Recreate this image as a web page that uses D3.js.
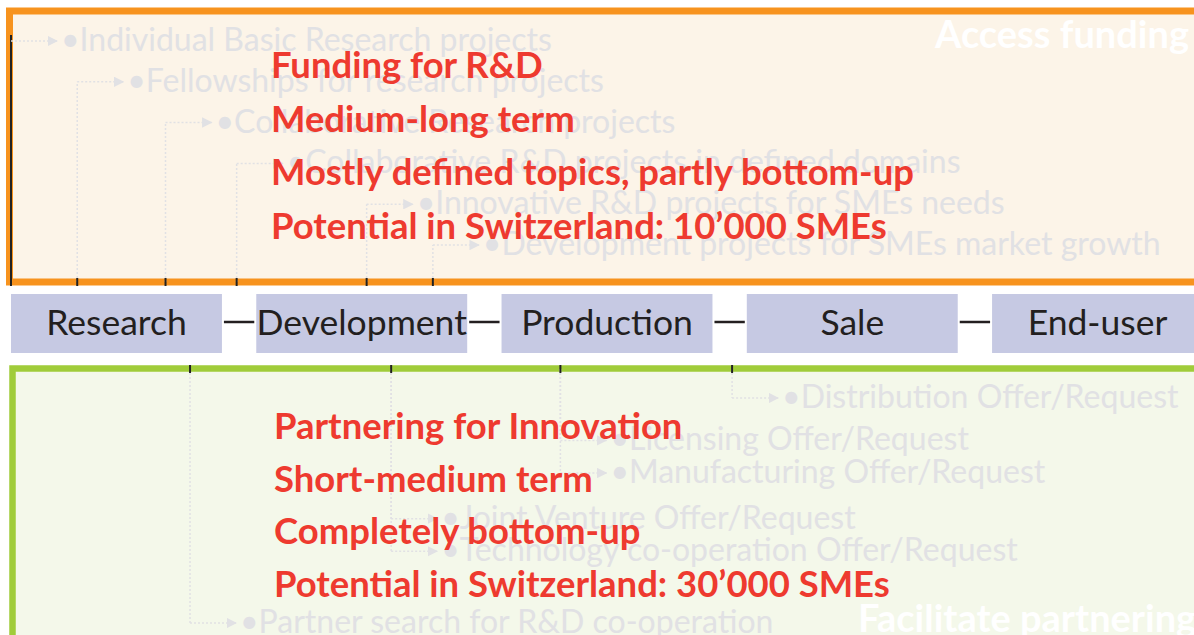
<!DOCTYPE html>
<html>
<head>
<meta charset="utf-8">
<script src="https://cdn.jsdelivr.net/npm/d3@7"></script>
<style>
  body { margin: 0; background: #fff; }
  svg { display: block; }
</style>
</head>
<body>
<div id="chart"></div>
<script>
// value chain
const stages = ["Research", "Development", "Production", "Sale", "End-user"];

// headline texts
const fundingHeadlines = [
    "Funding for R&D",
    "Medium-long term",
    "Mostly defined topics, partly bottom-up",
    "Potential in Switzerland: 10\u2019000 SMEs"
];
const partneringHeadlines = [
    "Partnering for Innovation",
    "Short-medium term",
    "Completely bottom-up",
    "Potential in Switzerland: 30\u2019000 SMEs"
];

// instruments, where they branch off the chain (stage units) and their text line
const fundingInstruments = [
    "Individual Basic Research projects",
    "Fellowships for research projects",
    "Collaborative Research projects",
    "Collaborative R&D projects in defined domains",
    "Innovative R&D projects for SMEs needs",
    "Development projects for SMEs market growth"
];
const fundingChainPos = [0, 0.27, 0.63, 0.92, 1.45, 1.72];
const fundingRow = [0, 1, 2, 3, 4, 5];

const partneringInstruments = [
    "Distribution Offer/Request",
    "Licensing Offer/Request",
    "Manufacturing Offer/Request",
    "Joint Venture Offer/Request",
    "Technology co-operation Offer/Request",
    "Partner search for R&D co-operation"
];
const partneringChainPos = [2.94, 2.24, 2.24, 1.55, 1.55, 0.73];
const partneringRow = [0, 1.3, 2.3, 3.7, 4.7, 6.9];

const panelTitles = ["Access funding", "Facilitate partnering"];

const width = 1194, height = 635;
const font = "Lato, 'Open Sans', sans-serif";
const red = "#ee3a2f", faint = "#e1e1e4";

const svg = d3.select("#chart").append("svg")
    .attr("width", width)
    .attr("height", height);

// Scales
const x = d3.scaleBand().domain(stages).range([11, 1203]).paddingInner(0.14).paddingOuter(0);
const chainX = d3.scaleLinear().domain([0, 5]).range([11, 11 + 5 * x.step()]);
const topRowY = d3.scaleLinear().domain([0, 5]).range([51, 255]);
const bottomRowY = d3.scaleLinear().domain([0, 6.9]).range([408, 633]);

// Panels
svg.append("rect")
    .attr("x", 9.5).attr("y", 11)
    .attr("width", 1210).attr("height", 271)
    .attr("fill", "#fcf4e8")
    .attr("stroke", "#f7931e")
    .attr("stroke-width", 7);

svg.append("rect")
    .attr("x", 12.5).attr("y", 368.5)
    .attr("width", 1210).attr("height", 300)
    .attr("fill", "#f4f8ea")
    .attr("stroke", "#a0cc3a")
    .attr("stroke-width", 6.5);

// arrow marker
svg.append("defs").append("marker")
    .attr("id", "arr")
    .attr("viewBox", "0 0 10 10")
    .attr("refX", 9).attr("refY", 5)
    .attr("markerWidth", 7).attr("markerHeight", 7)
    .attr("orient", "auto")
    .append("path")
    .attr("d", "M0,0L10,5L0,10z")
    .attr("fill", faint);

// faint instrument trees
function drawTree(items, chainPos, rows, rowY, borderY) {
    const g = svg.append("g");
    items.forEach((t, i) => {
        const bx = chainX(chainPos[i]);
        const by = rowY(rows[i]) - 10;
        const solid = borderY < 300 && i === 0;
        g.append("line")
            .attr("x1", bx).attr("x2", bx)
            .attr("y1", borderY).attr("y2", solid ? by - 6 : by)
            .attr("stroke", solid ? "#222" : faint)
            .attr("stroke-width", solid ? 2 : 1.5)
            .attr("stroke-dasharray", solid ? null : "2,2");
        g.append("line")
            .attr("x1", bx).attr("x2", bx + 46)
            .attr("y1", by).attr("y2", by)
            .attr("stroke", faint)
            .attr("stroke-width", 1.5)
            .attr("stroke-dasharray", "2,2")
            .attr("marker-end", "url(#arr)");
        g.append("text")
            .attr("x", bx + 50)
            .attr("y", rowY(rows[i]))
            .attr("fill", faint)
            .style("font-family", font)
            .style("font-size", "32px")
            .text("\u2022" + t);
    });
    // ticks on the border
    Array.from(new Set(chainPos)).forEach(p => {
        svg.append("line")
            .attr("x1", chainX(p)).attr("x2", chainX(p))
            .attr("y1", borderY - 4).attr("y2", borderY + 4)
            .attr("stroke", "#222")
            .attr("stroke-width", 2);
    });
}
drawTree(fundingInstruments, fundingChainPos, fundingRow, topRowY, 282);
drawTree(partneringInstruments, partneringChainPos, partneringRow, bottomRowY, 369);

// panel titles (white)
svg.append("text")
    .attr("x", 935).attr("y", 48)
    .attr("fill", "#fff")
    .style("font-family", font).style("font-weight", 700).style("font-size", "38px")
    .text(panelTitles[0]);
svg.append("text")
    .attr("x", 858).attr("y", 632)
    .attr("fill", "#fff")
    .style("font-family", font).style("font-weight", 700).style("font-size", "38px")
    .text(panelTitles[1]);

// value chain boxes
const chain = svg.append("g");
stages.forEach((s, i) => {
    if (i > 0) {
        chain.append("line")
            .attr("x1", x(stages[i - 1]) + x.bandwidth() + 2)
            .attr("x2", x(s) - 2)
            .attr("y1", 322).attr("y2", 322)
            .attr("stroke", "#231f20")
            .attr("stroke-width", 2.5);
    }
});
chain.selectAll("rect")
    .data(stages)
    .join("rect")
    .attr("x", d => x(d))
    .attr("y", 294)
    .attr("width", x.bandwidth())
    .attr("height", 59)
    .attr("fill", "#c6c9e3");
chain.selectAll("text")
    .data(stages)
    .join("text")
    .attr("x", d => x(d) + x.bandwidth() / 2)
    .attr("y", 335)
    .attr("text-anchor", "middle")
    .attr("fill", "#231f20")
    .style("font-family", font)
    .style("font-size", "35.5px")
    .text(d => d);

// red headlines, sized so the longest line fits its measured width
function drawHeadlines(lines, x0, y0, step) {
    const g = svg.append("g");
    const t = g.selectAll("text")
        .data(lines)
        .join("text")
        .attr("x", x0)
        .attr("y", (d, i) => y0 + i * step)
        .attr("fill", red)
        .style("font-family", font)
        .style("font-weight", 700)
        .style("font-size", "34px")
        .text(d => d);
    const w = t.nodes()[3].getComputedTextLength();
    t.style("font-size", (34 * 616 / w) + "px");
}
drawHeadlines(fundingHeadlines, 271, 78, 53.7);
drawHeadlines(partneringHeadlines, 274, 439, 52.7);
</script>
</body>
</html>
